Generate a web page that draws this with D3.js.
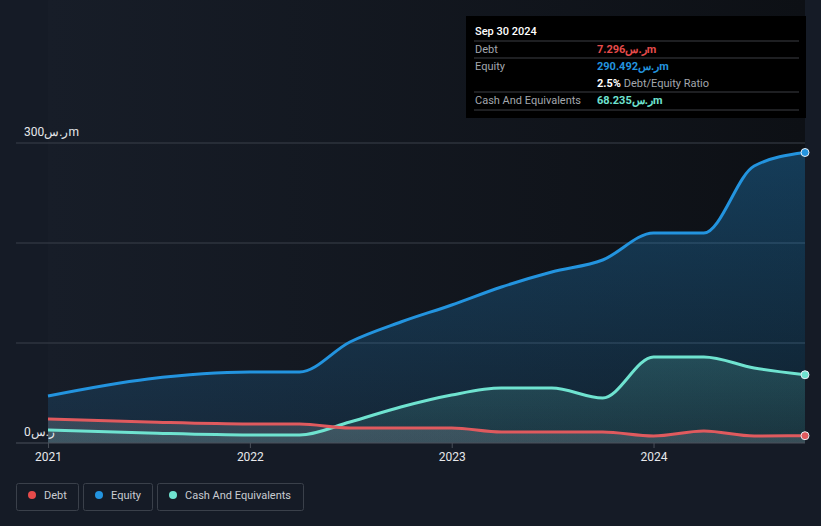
<!DOCTYPE html>
<html>
<head>
<meta charset="utf-8">
<script src="https://cdn.jsdelivr.net/npm/d3@7"></script>
<style>
  html, body { margin: 0; padding: 0; background: #151b26; }
  body { width: 821px; height: 526px; overflow: hidden; font-family: Roboto, "Noto Sans", sans-serif; }
  #chart { position: absolute; left: 0; top: 0; }
</style>
</head>
<body>
<svg id="chart" width="821" height="526"></svg>
<script>
// quarter end dates (semi-annual before 2022)
var dates = ["2020-12-31", "2021-06-30", "2021-12-31", "2022-03-31", "2022-06-30", "2022-09-30",
    "2022-12-31", "2023-03-31", "2023-06-30", "2023-09-30", "2023-12-31", "2024-03-31",
    "2024-06-30", "2024-09-30"];
var debt = [24, 21, 19, 19, 15, 15, 15, 11, 11, 11, 7, 12, 7, 7.296];
var equity = [47, 64, 71, 71, 101, 121, 138, 156, 171, 183, 210, 210, 277, 290.492];
var cash = [13, 10, 8, 8, 21, 36, 48, 55, 55, 45, 86, 86, 75, 68.235];
var yTicks = [0, 300];
var yGrid = [100, 200, 300];
var xTickYears = [2021, 2022, 2023, 2024];

var tooltipTitle = "Sep 30 2024";
var tooltipRows = [
    {label: "Debt", value: "7.296", color: "#e64b4b"},
    {label: "Equity", value: "290.492", color: "#2394df"},
    {label: "", value: "2.5%", extra: " Debt/Equity Ratio", color: "#ffffff"},
    {label: "Cash And Equivalents", value: "68.235", color: "#6fe3d0"}
];
var legendItems = [
    {name: "Debt", color: "#e64b4b"},
    {name: "Equity", color: "#2394df"},
    {name: "Cash And Equivalents", color: "#6fe3d0"}
];
var cur = "ر.س";

var parse = d3.timeParse("%Y-%m-%d");
var pts = dates.map(function(d, i) {
    return {date: parse(d), debt: debt[i], equity: equity[i], cash: cash[i]};
});

var svg = d3.select("#chart");
var plotL = 48, plotR = 805, plotT = 143, plotB = 443;

var x = d3.scaleTime()
    .domain([parse("2020-12-31"), parse("2024-09-30")])
    .range([plotL, plotR]);
var y = d3.scaleLinear().domain([0, 300]).range([plotB, plotT]);

var defs = svg.append("defs");

var bg = defs.append("linearGradient").attr("id", "bg-grad")
    .attr("x1", "0%").attr("y1", "0%").attr("x2", "100%").attr("y2", "0%");
bg.append("stop").attr("offset", "0%").attr("stop-color", "#171d28");
bg.append("stop").attr("offset", "100%").attr("stop-color", "#0d1015");

function areaGrad(id, color, o1, o2) {
    var g = defs.append("linearGradient").attr("id", id)
        .attr("gradientUnits", "userSpaceOnUse")
        .attr("x1", 0).attr("y1", plotT).attr("x2", 0).attr("y2", plotB);
    g.append("stop").attr("offset", "0%").attr("stop-color", color).attr("stop-opacity", o1);
    g.append("stop").attr("offset", "100%").attr("stop-color", color).attr("stop-opacity", o2);
}
areaGrad("eq-grad", "#2394df", 0.34, 0.12);
areaGrad("cash-grad", "#6fe3d0", 0.4, 0.1);
areaGrad("debt-grad", "#b0b4bc", 0.25, 0.2);

// plot background
svg.append("rect")
    .attr("x", plotL).attr("y", 0)
    .attr("width", plotR - plotL).attr("height", plotB)
    .attr("fill", "url(#bg-grad)");

// gridlines
svg.selectAll(".grid")
    .data(yGrid)
    .enter()
    .append("line")
    .attr("x1", 16).attr("x2", plotR)
    .attr("y1", d => y(d)).attr("y2", d => y(d))
    .attr("stroke", "#3a404a")
    .attr("stroke-width", 1);

var series = [
    {key: "equity", color: "#2394df", fill: "url(#eq-grad)"},
    {key: "cash", color: "#6fe3d0", fill: "url(#cash-grad)"},
    {key: "debt", color: "#e05a5e", fill: "url(#debt-grad)"}
];

series.forEach(function(s) {
    var area = d3.area()
        .x(d => x(d.date))
        .y0(y(0))
        .y1(d => y(d[s.key]))
        .curve(d3.curveMonotoneX);
    svg.append("path")
        .datum(pts)
        .attr("d", area)
        .attr("fill", s.fill);
});

series.forEach(function(s) {
    var line = d3.line()
        .x(d => x(d.date))
        .y(d => y(d[s.key]))
        .curve(d3.curveMonotoneX);
    svg.append("path")
        .datum(pts)
        .attr("d", line)
        .attr("fill", "none")
        .attr("stroke", s.color)
        .attr("stroke-width", 3);
});

// end markers
var last = pts[pts.length - 1];
series.forEach(function(s) {
    svg.append("circle")
        .attr("cx", x(last.date))
        .attr("cy", y(last[s.key]))
        .attr("r", 4)
        .attr("fill", s.color)
        .attr("stroke", "#e8eef5")
        .attr("stroke-width", 1);
});

// bottom axis line
svg.append("line")
    .attr("x1", 16).attr("x2", plotR)
    .attr("y1", plotB).attr("y2", plotB)
    .attr("stroke", "#4a505a");

// x ticks
var xTicks = xTickYears.map(yr => new Date(yr, 0, 1));
svg.selectAll(".xtick")
    .data(xTicks)
    .enter()
    .append("line")
    .attr("x1", d => x(d)).attr("x2", d => x(d))
    .attr("y1", plotB).attr("y2", plotB + 5)
    .attr("stroke", "#4a505a");

svg.selectAll(".xlab")
    .data(xTicks)
    .enter()
    .append("text")
    .attr("x", d => x(d))
    .attr("y", 461)
    .attr("text-anchor", "middle")
    .attr("fill", "#e6e8eb")
    .style("font-size", "12px")
    .text(d => d3.timeFormat("%Y")(d));

// y labels
svg.selectAll(".ylab")
    .data(yTicks)
    .enter()
    .append("text")
    .attr("x", 24)
    .attr("y", d => y(d) - 7)
    .attr("fill", "#e6e8eb")
    .style("font-size", "12px")
    .text(d => d + cur + (d == 0 ? "" : "m"));

// tooltip box
var tip = svg.append("g").attr("transform", "translate(466,16)");
tip.append("rect")
    .attr("width", 340).attr("height", 102)
    .attr("fill", "#000000");
tip.append("text")
    .attr("x", 9).attr("y", 19)
    .attr("fill", "#ffffff")
    .style("font-size", "11px")
    .style("font-weight", "500")
    .text(tooltipTitle);

var sepY = [25, 42, 76, 94];
tip.selectAll(".sep")
    .data(sepY)
    .enter()
    .append("line")
    .attr("x1", 8).attr("x2", 333)
    .attr("y1", d => d).attr("y2", d => d)
    .attr("stroke", "#3c3f44");

tooltipRows.forEach(function(r, i) {
    var ty = 37 + i * 17;
    if (r.label) {
        tip.append("text")
            .attr("x", 9).attr("y", ty)
            .attr("fill", "#a3a7ad")
            .style("font-size", "11px")
            .text(r.label);
    }
    var t = tip.append("text")
        .attr("x", 131).attr("y", ty)
        .style("font-size", "11px");
    t.append("tspan")
        .attr("fill", r.color)
        .style("font-weight", "bold")
        .text(r.value + (r.extra ? "" : cur + "m"));
    if (r.extra) {
        t.append("tspan")
            .attr("fill", "#a3a7ad")
            .text(r.extra);
    }
});

// legend
var legX = [16, 83, 157];
var legW = [62, 69, 146];
legendItems.forEach(function(d, i) {
    var g = svg.append("g").attr("transform", "translate(" + legX[i] + ",483)");
    g.append("rect")
        .attr("x", 0.5).attr("y", 0.5)
        .attr("width", legW[i]).attr("height", 27)
        .attr("rx", 2)
        .attr("fill", "none")
        .attr("stroke", "#3a404a");
    g.append("circle")
        .attr("cx", 16).attr("cy", 12)
        .attr("r", 4)
        .attr("fill", d.color);
    g.append("text")
        .attr("x", 28).attr("y", 16)
        .attr("fill", "#c9ccd1")
        .style("font-size", "11px")
        .text(d.name);
});
</script>
</body>
</html>
